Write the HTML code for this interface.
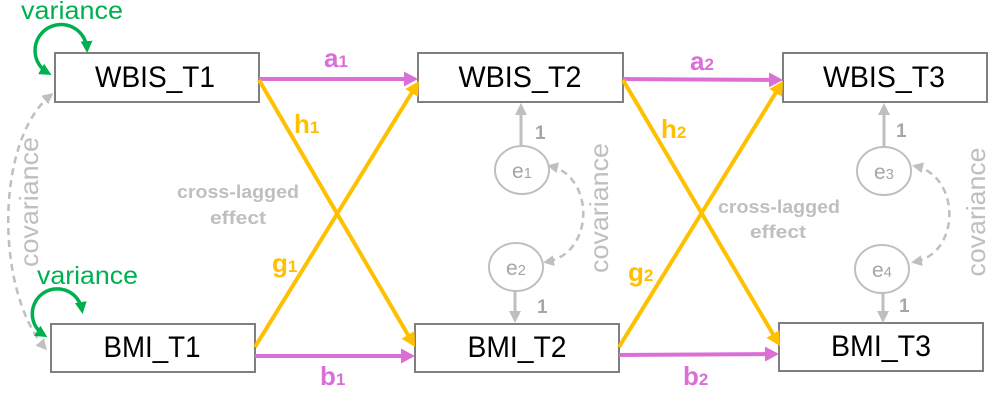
<!DOCTYPE html>
<html><head><meta charset="utf-8"><style>
html,body{margin:0;padding:0;background:#fff;}
svg{display:block;}
text{font-family:"Liberation Sans",Arial,sans-serif;}
</style></head><body>
<svg width="1008" height="401" viewBox="0 0 1008 401" xmlns="http://www.w3.org/2000/svg">
<defs>
<marker id="mp" markerWidth="14" markerHeight="15" refX="10" refY="7.5" orient="auto" markerUnits="userSpaceOnUse"><path d="M0,0 L14,7.5 L0,15 z" fill="#DA70D6"/></marker>
<marker id="my" markerWidth="14" markerHeight="15" refX="10" refY="7.5" orient="auto" markerUnits="userSpaceOnUse"><path d="M0,0 L14,7.5 L0,15 z" fill="#FFC000"/></marker>
<marker id="mg" markerWidth="12" markerHeight="12" refX="9" refY="6" orient="auto" markerUnits="userSpaceOnUse"><path d="M0,0 L12,6 L0,12 z" fill="#BFBFBF"/></marker>
<marker id="md" markerWidth="11" markerHeight="11" refX="8" refY="5.5" orient="auto-start-reverse" markerUnits="userSpaceOnUse"><path d="M0,0 L11,5.5 L0,11 z" fill="#BFBFBF"/></marker>
<marker id="mv" markerWidth="12" markerHeight="12" refX="8" refY="6" orient="auto-start-reverse" markerUnits="userSpaceOnUse"><path d="M0,0 L12,6 L0,12 z" fill="#00B050"/></marker>
</defs>

<!-- boxes -->
<g fill="#fff" stroke="#7F7F7F" stroke-width="2">
<rect x="55" y="53" width="204" height="49"/>
<rect x="51" y="324" width="204" height="48"/>
<rect x="418" y="53" width="205" height="49"/>
<rect x="415" y="324" width="204" height="48"/>
<rect x="783" y="53" width="204" height="49"/>
<rect x="779" y="323" width="204" height="48"/>
</g>
<g font-size="30" fill="#000" text-anchor="middle">
<text x="155" y="87" textLength="120" lengthAdjust="spacingAndGlyphs">WBIS_T1</text>
<text x="152" y="357" textLength="97" lengthAdjust="spacingAndGlyphs">BMI_T1</text>
<text x="520" y="87" textLength="123" lengthAdjust="spacingAndGlyphs">WBIS_T2</text>
<text x="517" y="357" textLength="99" lengthAdjust="spacingAndGlyphs">BMI_T2</text>
<text x="884" y="87" textLength="122" lengthAdjust="spacingAndGlyphs">WBIS_T3</text>
<text x="881" y="356" textLength="100" lengthAdjust="spacingAndGlyphs">BMI_T3</text>
</g>

<!-- pink autoregressive -->
<g stroke="#DA70D6" stroke-width="4" fill="none">
<line x1="259" y1="79" x2="414" y2="79" marker-end="url(#mp)"/>
<line x1="623" y1="79" x2="779" y2="80" marker-end="url(#mp)"/>
<line x1="255" y1="356" x2="411" y2="356" marker-end="url(#mp)"/>
<line x1="619" y1="355" x2="775" y2="354" marker-end="url(#mp)"/>
</g>

<!-- yellow cross-lagged -->
<g stroke="#FFC000" stroke-width="4" fill="none">
<line x1="259" y1="80" x2="413" y2="343.5" marker-end="url(#my)"/>
<line x1="255" y1="347" x2="416.9" y2="84.4" marker-end="url(#my)"/>
<line x1="623" y1="80" x2="778" y2="342.6" marker-end="url(#my)"/>
<line x1="619" y1="347" x2="780.9" y2="84.4" marker-end="url(#my)"/>
</g>

<!-- labels path -->
<g font-weight="bold" fill="#DA70D6">
<text x="324" y="67"><tspan font-size="26">a</tspan><tspan font-size="17">1</tspan></text>
<text x="690" y="70"><tspan font-size="26">a</tspan><tspan font-size="17">2</tspan></text>
<text x="320" y="385"><tspan font-size="26">b</tspan><tspan font-size="17">1</tspan></text>
<text x="683" y="385"><tspan font-size="26">b</tspan><tspan font-size="17">2</tspan></text>
</g>
<g font-weight="bold" fill="#FFC000">
<text x="294" y="133"><tspan font-size="26">h</tspan><tspan font-size="17">1</tspan></text>
<text x="661" y="138"><tspan font-size="26">h</tspan><tspan font-size="17">2</tspan></text>
<text x="272" y="272"><tspan font-size="26">g</tspan><tspan font-size="17">1</tspan></text>
<text x="628" y="281"><tspan font-size="26">g</tspan><tspan font-size="17">2</tspan></text>
</g>

<!-- cross-lagged effect text -->
<g font-weight="bold" fill="#BFBFBF" font-size="18" text-anchor="middle">
<text x="238" y="198" textLength="122" lengthAdjust="spacingAndGlyphs">cross-lagged</text>
<text x="238" y="224" textLength="56" lengthAdjust="spacingAndGlyphs">effect</text>
<text x="779" y="213" textLength="122" lengthAdjust="spacingAndGlyphs">cross-lagged</text>
<text x="778" y="238" textLength="56" lengthAdjust="spacingAndGlyphs">effect</text>
</g>

<!-- error terms -->
<g fill="#fff" stroke="#BFBFBF" stroke-width="2">
<ellipse cx="522" cy="170" rx="27" ry="24"/>
<ellipse cx="516" cy="267" rx="27" ry="24"/>
<ellipse cx="884" cy="171" rx="27" ry="24"/>
<ellipse cx="882" cy="269" rx="27" ry="24"/>
</g>
<g fill="#A6A6A6" text-anchor="middle">
<text x="522" y="178"><tspan font-size="21">e</tspan><tspan font-size="15">1</tspan></text>
<text x="516" y="275"><tspan font-size="21">e</tspan><tspan font-size="15">2</tspan></text>
<text x="884" y="179"><tspan font-size="21">e</tspan><tspan font-size="15">3</tspan></text>
<text x="882" y="277"><tspan font-size="21">e</tspan><tspan font-size="15">4</tspan></text>
</g>
<g stroke="#BFBFBF" stroke-width="3" fill="none">
<line x1="521" y1="146" x2="521" y2="106" marker-end="url(#mg)"/>
<line x1="515" y1="291" x2="515" y2="320" marker-end="url(#mg)"/>
<line x1="884" y1="147" x2="884" y2="106" marker-end="url(#mg)"/>
<line x1="883" y1="293" x2="883" y2="320" marker-end="url(#mg)"/>
</g>
<g font-weight="bold" fill="#A6A6A6" font-size="19">
<text x="535" y="139">1</text>
<text x="537" y="313">1</text>
<text x="896" y="137">1</text>
<text x="899" y="312">1</text>
</g>

<!-- dashed covariances -->
<g stroke="#BFBFBF" stroke-width="2.5" fill="none" stroke-dasharray="7,5">
<path d="M 51 95 C -5 140, -5 290, 45 348" marker-start="url(#md)" marker-end="url(#md)"/>
<path d="M 550 166 C 595 176, 595 254, 546 262" marker-start="url(#md)" marker-end="url(#md)"/>
<path d="M 915 166 C 961 176, 961 254, 914 262" marker-start="url(#md)" marker-end="url(#md)"/>
</g>
<g fill="#BFBFBF" font-size="26" text-anchor="middle">
<text transform="translate(38,202) rotate(-90)" textLength="130" lengthAdjust="spacingAndGlyphs">covariance</text>
<text transform="translate(608,208) rotate(-90)" textLength="130" lengthAdjust="spacingAndGlyphs">covariance</text>
<text transform="translate(985,212) rotate(-90)" textLength="129" lengthAdjust="spacingAndGlyphs">covariance</text>
</g>

<!-- variance loops -->
<g stroke="#00B050" stroke-width="3.5" fill="none">
<path d="M 48 73 A 26 26 0 1 1 87 49" marker-start="url(#mv)" marker-end="url(#mv)"/>
<path d="M 44 335 A 25 25 0 1 1 82 310" marker-start="url(#mv)" marker-end="url(#mv)"/>
</g>
<g fill="#00B050" font-size="25">
<text x="21" y="19" textLength="102" lengthAdjust="spacingAndGlyphs">variance</text>
<text x="37" y="284" textLength="101" lengthAdjust="spacingAndGlyphs">variance</text>
</g>
</svg>
</body></html>
